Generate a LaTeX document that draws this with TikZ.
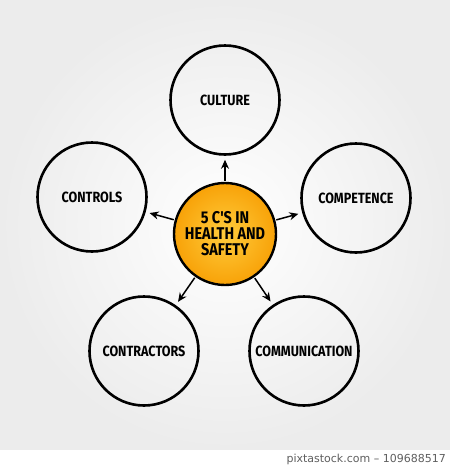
\documentclass[tikz,border=0pt]{standalone}
\usepackage{fontspec}
\usepackage{xcolor}
\usepackage{tikz}
\usetikzlibrary{positioning, shadings, arrows.meta}
\newfontfamily\markerfont{Fira Sans}[FakeStretch=0.85]
\newfontfamily\stockfont{DejaVu Sans}
\definecolor{HubCore}{RGB}{255, 204, 60}
\definecolor{HubRim}{RGB}{248, 162, 8}
\definecolor{Backdrop}{RGB}{236, 236, 236}
\definecolor{StockGray}{RGB}{95, 95, 95}
\tikzset{
	topic/.style={circle, draw=black, line width=2.6pt, minimum size=109pt, inner sep=0pt,
		font=\markerfont\bfseries\fontsize{14.8}{17}\selectfont},
	hub/.style={circle, draw=black, line width=2.4pt, minimum size=102pt, inner sep=0pt,
		inner color=HubCore, outer color=HubRim, align=center,
		font=\markerfont\bfseries\fontsize{17}{16}\selectfont},
	link/.style={-{Stealth[length=9pt, width=8pt]}, line width=1.5pt, shorten >=4pt, shorten <=1pt},
	stamp/.style={font=\stockfont\fontsize{11}{12}\selectfont, text=StockGray, inner sep=0pt},
}

\begin{document}
\begin{tikzpicture}[x=1pt, y=-1pt]
\useasboundingbox (0,0) rectangle (450,469);

% backdrop and stock strip
\fill[inner color=white, outer color=Backdrop] (0,0) rectangle (450,450);
\fill[white] (0,450) rectangle (450,469);

\node[hub] (hub) at (225,234) {5 C'S IN\\HEALTH AND\\SAFETY};

\node[topic] (culture) at (225,100) {CULTURE};
\node[topic] (controls) at (92,197) {CONTROLS};
\node[topic] (competence) at (356,198) {COMPETENCE};
\node[topic] (contractors) at (144,351) {CONTRACTORS};
\node[topic] (communication) at (304,351) {COMMUNICATION};

\draw[link] (hub) -- (culture);
\draw[link] (hub) -- (controls);
\draw[link] (hub) -- (competence);
\draw[link] (hub) -- (contractors);
\draw[link] (hub) -- (communication);

\node[stamp, anchor=east] (credit) at (446,459.5) {pixtastock.com – 109688517};
\end{tikzpicture}
\end{document}
